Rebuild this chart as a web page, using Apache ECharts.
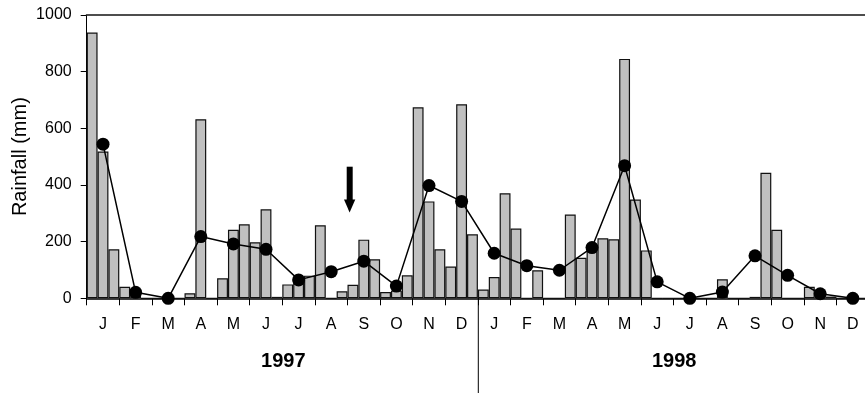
<!DOCTYPE html>
<html>
<head>
<meta charset="utf-8">
<style>
  html, body { margin: 0; padding: 0; background: #fff; }
  #chart { width: 865px; height: 393px; }
</style>
<script src="https://cdn.jsdelivr.net/npm/echarts@6/dist/echarts.min.js"></script>
</head>
<body>
<div id="chart"></div>
<script>
// Month initials shown under the axis (two years, Jan–Dec)
const monthLabels = ['J','F','M','A','M','J','J','A','S','O','N','D',
                     'J','F','M','A','M','J','J','A','S','O','N','D'];
const yearLabels = ['1997', '1998'];

// Dekadal (10-day) rainfall totals, mm — three per month
const dekadRain1997 = [
  938, 518, 173,   41, 23, 0,    0, 0, 0,      18, 632, 0,
  71, 242, 261,    198, 314, 5,  49, 65, 80,   258, 0, 25,
  48, 207, 138,    22, 27, 81,   674, 342, 173, 112, 685, 226
];
const dekadRain1998 = [
  31, 75, 371,     246, 0, 99,   0, 0, 296,    143, 181, 212,
  208, 845, 349,   169, 0, 0,    0, 0, 0,      0, 67, 0,
  0, 5, 443,       242, 0, 0,    41, 8, 6,     0, 0, 0
];

// Monthly mean of the dekadal totals, mm
const monthlyMean1997 = [544, 21, 0, 218, 192, 173, 65, 94, 131, 43, 398, 342];
const monthlyMean1998 = [159, 115, 99, 179, 468, 58, 0, 22, 150, 81, 16, 0];

const yTicks = { min: 0, max: 1000, step: 200 };

const dekadRain = dekadRain1997.concat(dekadRain1998);
const monthlyMean = monthlyMean1997.concat(monthlyMean1998);
const dekadIndex = dekadRain.map((_, i) => String(i));

const FONT = 'Liberation Sans, Arial, sans-serif';
const chart = echarts.init(document.getElementById('chart'));

chart.setOption({
  animation: false,
  backgroundColor: '#ffffff',
  // the plot runs slightly past the right edge of the canvas
  grid: { left: 86.7, top: 15, width: 782.4, height: 283.3, containLabel: false, outerBoundsMode: 'none' },
  xAxis: [
    { // dekads — carries the bars
      type: 'category', data: dekadIndex, gridIndex: 0, position: 'bottom',
      axisLine: { show: false }, axisTick: { show: false },
      axisLabel: { show: false }, splitLine: { show: false }
    },
    { // months — carries the mean line, ticks and labels
      type: 'category', data: monthLabels, gridIndex: 0, position: 'bottom',
      boundaryGap: true,
      axisLine: { show: true, lineStyle: { color: '#000', width: 1.5 } },
      axisTick: { show: true, length: 7, interval: 0, lineStyle: { color: '#000', width: 1 } },
      axisLabel: { show: true, interval: 0, margin: 18, color: '#000', fontSize: 16, fontFamily: FONT },
      splitLine: { show: false }
    },
    { // top frame line
      type: 'category', data: monthLabels, gridIndex: 0, position: 'top',
      axisLine: { show: true, lineStyle: { color: '#4d4d4d', width: 2 } },
      axisTick: { show: false }, axisLabel: { show: false }, splitLine: { show: false }
    }
  ],
  yAxis: {
    type: 'value', min: yTicks.min, max: yTicks.max, interval: yTicks.step,
    name: 'Rainfall (mm)', nameLocation: 'middle', nameGap: 56, nameRotate: 90,
    nameMoveOverlap: false,
    nameTextStyle: { color: '#000', fontSize: 20, fontFamily: FONT },
    axisLine: { show: true, lineStyle: { color: '#000', width: 1 } },
    axisTick: { show: true, inside: false, length: 6, lineStyle: { color: '#000', width: 1 } },
    axisLabel: { color: '#000', fontSize: 16, fontFamily: FONT, margin: 15,
                 formatter: v => String(v) },
    splitLine: { show: false }
  },
  series: [
    {
      type: 'bar', xAxisIndex: 0, data: dekadRain,
      barWidth: '100%', barCategoryGap: '0%',
      itemStyle: { color: '#c0c0c0', borderColor: '#111', borderWidth: 1.2 },
      z: 2
    },
    {
      type: 'line', xAxisIndex: 1, data: monthlyMean,
      symbol: 'circle', symbolSize: 13,
      itemStyle: { color: '#000' },
      lineStyle: { color: '#000', width: 1.5 },
      z: 3
    }
  ],
  graphic: [
    // arrow marking the event in September 1997
    { type: 'rect', shape: { x: 346.7, y: 166.7, width: 6, height: 34 }, style: { fill: '#000' }, z: 10 },
    { type: 'polygon', shape: { points: [[344, 199.5], [355.3, 199.5], [349.6, 212.5]] }, style: { fill: '#000' }, z: 10 },
    // divider between the two years
    { type: 'line', shape: { x1: 478.3, y1: 298, x2: 478.3, y2: 393 }, style: { stroke: '#000', lineWidth: 1 }, z: 10 },
    // year captions
    { type: 'text', x: 283.3, y: 361, style: { text: yearLabels[0], font: 'bold 20px ' + FONT, fill: '#000', align: 'center', verticalAlign: 'middle' }, z: 10 },
    { type: 'text', x: 674.2, y: 361, style: { text: yearLabels[1], font: 'bold 20px ' + FONT, fill: '#000', align: 'center', verticalAlign: 'middle' }, z: 10 }
  ]
});
</script>
</body>
</html>
